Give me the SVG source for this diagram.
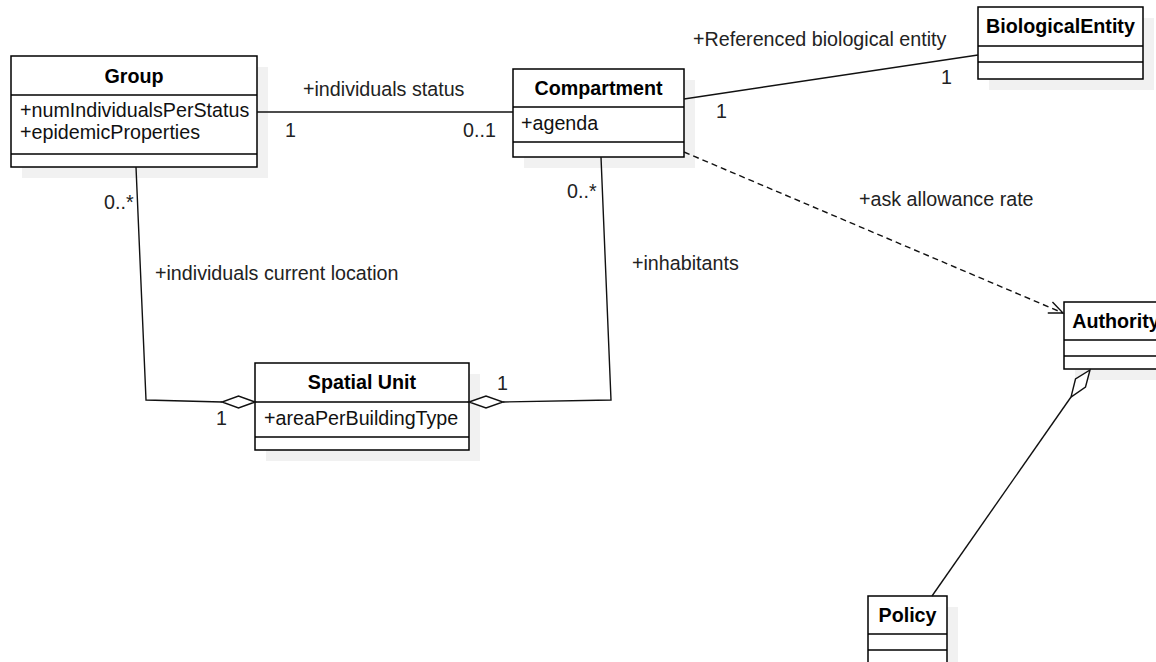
<svg xmlns="http://www.w3.org/2000/svg" width="1156" height="662" viewBox="0 0 1156 662">
<style>
  .box{fill:#fff;stroke:#000;stroke-width:1.5}
  .shadow{fill:#f1f1f1;stroke:none}
  .div{stroke:#000;stroke-width:1.5}
  .title{font-family:"Liberation Sans",Arial,sans-serif;font-size:19.7px;font-weight:bold;fill:#000;text-anchor:middle}
  .attr{font-family:"Liberation Sans",Arial,sans-serif;font-size:19.7px;fill:#111}
  .lbl{font-family:"Liberation Sans",Arial,sans-serif;font-size:19.7px;fill:#222}
  .edge{fill:none;stroke:#111;stroke-width:1.4}
  .dash{stroke-dasharray:6 4}
  .diamond{fill:#fff;stroke:#111;stroke-width:1.4}
</style>
<defs>
  <marker id="open" markerUnits="userSpaceOnUse" markerWidth="20" markerHeight="20" refX="15" refY="7" orient="auto">
    <path d="M1,1 L15,7 L1,13" fill="none" stroke="#111" stroke-width="1.4"/>
  </marker>
</defs>
<rect width="1156" height="662" fill="#fff"/>

<g id="group">
  <rect class="shadow" x="22" y="67" width="246" height="111"/>
  <rect class="box" x="11" y="56" width="246" height="111"/>
  <line class="div" x1="11" y1="95" x2="257" y2="95"/>
  <line class="div" x1="11" y1="154" x2="257" y2="154"/>
  <text class="title" x="134" y="82.5">Group</text>
  <text class="attr" x="20" y="117">+numIndividualsPerStatus</text>
  <text class="attr" x="20" y="139">+epidemicProperties</text>
</g>

<g id="compartment">
  <rect class="shadow" x="524" y="80" width="171" height="88"/>
  <rect class="box" x="513" y="69" width="171" height="88"/>
  <line class="div" x1="513" y1="107" x2="684" y2="107"/>
  <line class="div" x1="513" y1="142" x2="684" y2="142"/>
  <text class="title" x="598.5" y="95">Compartment</text>
  <text class="attr" x="521" y="130">+agenda</text>
</g>

<g id="biologicalentity">
  <rect class="shadow" x="989" y="18" width="165" height="72"/>
  <rect class="box" x="978" y="7" width="165" height="72"/>
  <line class="div" x1="978" y1="46" x2="1143" y2="46"/>
  <line class="div" x1="978" y1="62" x2="1143" y2="62"/>
  <text class="title" x="1060.5" y="33">BiologicalEntity</text>
</g>

<g id="authority">
  <rect class="shadow" x="1075" y="313" width="104" height="67"/>
  <rect class="box" x="1064" y="302" width="104" height="67"/>
  <line class="div" x1="1064" y1="340" x2="1168" y2="340"/>
  <line class="div" x1="1064" y1="356" x2="1168" y2="356"/>
  <text class="title" x="1116" y="328">Authority</text>
</g>

<g id="spatialunit">
  <rect class="shadow" x="266" y="374" width="214" height="87"/>
  <rect class="box" x="255" y="363" width="214" height="87"/>
  <line class="div" x1="255" y1="402" x2="469" y2="402"/>
  <line class="div" x1="255" y1="437" x2="469" y2="437"/>
  <text class="title" x="362" y="389">Spatial Unit</text>
  <text class="attr" x="264" y="425">+areaPerBuildingType</text>
</g>

<g id="policy">
  <rect class="shadow" x="879" y="607" width="79" height="80"/>
  <rect class="box" x="868" y="596" width="79" height="80"/>
  <line class="div" x1="868" y1="634" x2="947" y2="634"/>
  <line class="div" x1="868" y1="650" x2="947" y2="650"/>
  <text class="title" x="907.5" y="622">Policy</text>
</g>

<g id="connectors">
  <line class="edge" x1="257" y1="112" x2="513" y2="112"/>
  <line class="edge" x1="684" y1="99" x2="978" y2="55"/>
  <polyline class="edge" points="136,167 146,400 222,402"/>
  <polyline class="edge" points="601,157 611,400 503,402"/>
  <line class="edge dash" x1="684" y1="152" x2="1063" y2="313" marker-end="url(#open)"/>
  <line class="edge" x1="1071" y1="397" x2="932" y2="596"/>
  <path class="diamond" d="M255,402 L238.5,396 L222,402 L238.5,408 Z"/>
  <path class="diamond" d="M469,402 L486,396 L503,402 L486,408 Z"/>
  <path class="diamond" d="M1090,370 L1085.5,387 L1071,397 L1075.5,379 Z"/>
  <text class="lbl" x="303" y="96">+individuals status</text>
  <text class="lbl" x="285" y="137">1</text>
  <text class="lbl" x="463" y="137">0..1</text>
  <text class="lbl" x="693" y="46">+Referenced biological entity</text>
  <text class="lbl" x="941" y="84">1</text>
  <text class="lbl" x="716" y="118">1</text>
  <text class="lbl" x="104" y="209">0..*</text>
  <text class="lbl" x="155" y="280">+individuals current location</text>
  <text class="lbl" x="216" y="425">1</text>
  <text class="lbl" x="567" y="198">0..*</text>
  <text class="lbl" x="632" y="270">+inhabitants</text>
  <text class="lbl" x="497" y="390">1</text>
  <text class="lbl" x="859" y="206">+ask allowance rate</text>
</g>
</svg>
